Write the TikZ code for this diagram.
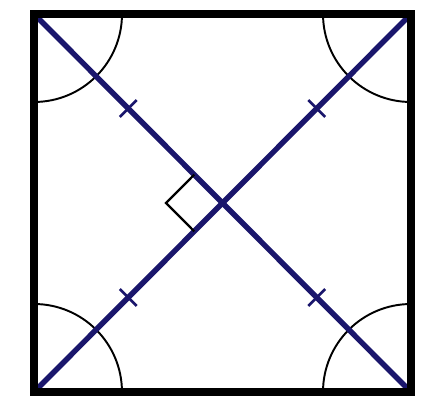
\documentclass[tikz,border=0pt]{standalone}
\usepackage{xcolor}
\usetikzlibrary{calc}
\definecolor{diagblue}{RGB}{26,22,108}

\begin{document}
\begin{tikzpicture}[x=0.02cm, y=0.02cm,
  sqside/.style={black, line width=4.4pt},
  diag/.style={diagblue, line width=3.1pt},
  anglearc/.style={black, line width=1.1pt},
  tickmark/.style={diagblue, line width=1.5pt},
  rightmark/.style={black, line width=1.3pt}]
  \useasboundingbox (0,0) rectangle (441,400);
  \coordinate (A) at (34,386);
  \coordinate (B) at (411,386);
  \coordinate (C) at (411,8);
  \coordinate (D) at (34,8);
  \coordinate (O) at ($(A)!0.5!(C)$);
  \draw[anglearc] ($(A)+(88,0)$) arc[start angle=0, end angle=-90, radius=1.76cm];
  \draw[anglearc] ($(B)+(0,-88)$) arc[start angle=-90, end angle=-180, radius=1.76cm];
  \draw[anglearc] ($(C)+(-88,0)$) arc[start angle=180, end angle=90, radius=1.76cm];
  \draw[anglearc] ($(D)+(0,88)$) arc[start angle=90, end angle=0, radius=1.76cm];
  \draw[diag] (A) -- (C);
  \draw[diag] (B) -- (D);
  \coordinate (MA) at ($(A)!0.5!(O)$);
  \coordinate (MB) at ($(B)!0.5!(O)$);
  \coordinate (MC) at ($(C)!0.5!(O)$);
  \coordinate (MD) at ($(D)!0.5!(O)$);
  \draw[tickmark] ($(MA)!0.09!90:(O)$) -- ($(MA)!0.09!-90:(O)$);
  \draw[tickmark] ($(MB)!0.09!90:(O)$) -- ($(MB)!0.09!-90:(O)$);
  \draw[tickmark] ($(MC)!0.09!90:(O)$) -- ($(MC)!0.09!-90:(O)$);
  \draw[tickmark] ($(MD)!0.09!90:(O)$) -- ($(MD)!0.09!-90:(O)$);
  \coordinate (RA) at ($(O)!0.15!(A)$);
  \coordinate (RD) at ($(O)!0.15!(D)$);
  \draw[rightmark] (RA) -- ($(RA)+(RD)-(O)$) -- (RD);
  \draw[sqside, line join=miter] (D) rectangle (B);
\end{tikzpicture}
\end{document}
